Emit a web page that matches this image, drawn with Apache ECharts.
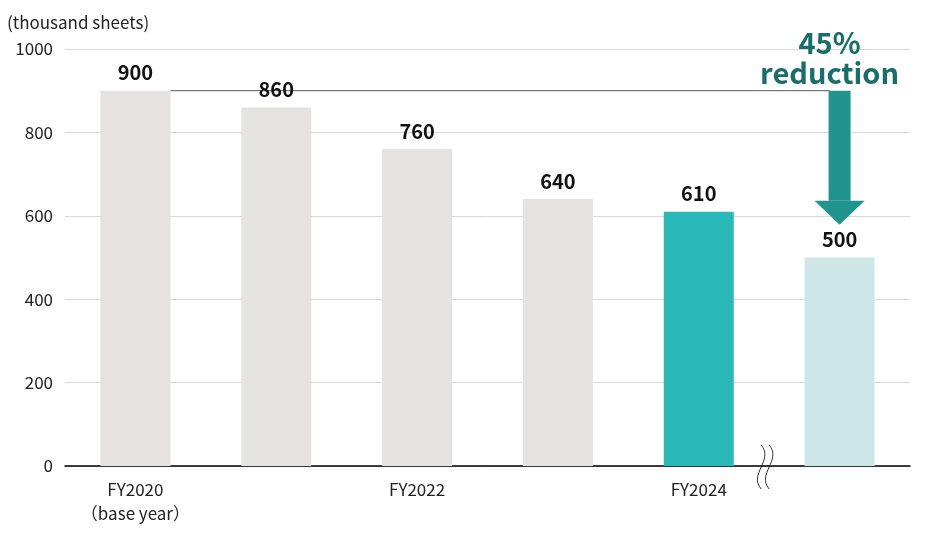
<!DOCTYPE html>
<html>
<head>
<meta charset="utf-8">
<script src="https://cdn.jsdelivr.net/npm/echarts@6/dist/echarts.min.js"></script>
<style>html,body{margin:0;padding:0;background:#fff}#main{width:927px;height:535px}</style>
</head>
<body>
<div id="main"></div>
<script>
var categories = ['FY2020\n（base year）', 'FY2021', 'FY2022', 'FY2023', 'FY2024', 'FY2030\n（Target）'];
var values = [900, 860, 760, 640, 610, 500];
var barColors = ['#e4e3e2', '#e4e3e2', '#e4e3e2', '#e4e3e2', '#2bb8b8', '#cde7e7'];
var yTicks = [0, 200, 400, 600, 800, 1000];
var font = '"Noto Sans CJK JP", "Noto Sans", sans-serif';

var chart = echarts.init(document.getElementById('main'));
chart.setOption({
    animation: false,
    grid: { left: 65, right: 17, top: 49, bottom: 69 },
    xAxis: {
        type: 'category',
        data: categories,
        axisLine: { lineStyle: { color: '#000', width: 1.5 } },
        axisTick: { show: false },
        axisLabel: { color: '#222', fontSize: 17, fontFamily: font, lineHeight: 24, margin: 12 }
    },
    yAxis: {
        type: 'value',
        min: 0, max: 1000, interval: 200,
        name: '(thousand sheets)',
        nameLocation: 'end',
        nameGap: 18,
        nameTextStyle: { color: '#222', fontSize: 17, fontFamily: font, align: 'left', padding: [0, 0, 0, -58] },
        axisLine: { show: false },
        axisTick: { show: false },
        axisLabel: { color: '#222', fontSize: 17, fontFamily: font, margin: 12,
            formatter: function (v) { return yTicks.indexOf(v) >= 0 ? v : ''; } },
        splitLine: { lineStyle: { color: '#d8d8d8' } }
    },
    series: [{
        type: 'bar',
        barWidth: 70,
        data: values.map(function (v, i) { return { value: v, itemStyle: { color: barColors[i] } }; }),
        label: { show: true, position: 'top', distance: 8, color: '#111', fontSize: 20, fontWeight: 'bold', fontFamily: font }
    }]
});

// annotation: reference line, arrow, wavy break
var p0 = chart.convertToPixel({ seriesIndex: 0 }, [0, values[0]]);
var p5 = chart.convertToPixel({ seriesIndex: 0 }, [5, values[5]]);
var p4 = chart.convertToPixel({ seriesIndex: 0 }, [4, 0]);
var ax = p5[0];
var breakX = (p4[0] + ax) / 2 - 5;
chart.setOption({
    graphic: [
        { type: 'line', shape: { x1: p0[0] + 35, y1: p0[1], x2: ax - 10, y2: p0[1] }, style: { stroke: '#555', lineWidth: 1 } },
        { type: 'rect', shape: { x: ax - 11, y: p0[1], width: 22, height: 110 }, style: { fill: '#20958f' } },
        { type: 'polygon', shape: { points: [[ax - 25, p0[1] + 110], [ax + 25, p0[1] + 110], [ax, p0[1] + 134]] }, style: { fill: '#20958f' } },
        { type: 'text', x: ax - 10, y: 58, style: { text: '45%\nreduction', fill: '#1a6e6a', font: 'bold 29px ' + font, align: 'center', verticalAlign: 'middle', lineHeight: 30 } },
        { type: 'bezierCurve', shape: { x1: breakX - 3, y1: 445, x2: breakX - 3, y2: 489, cpx1: breakX + 10, cpy1: 460, cpx2: breakX - 16, cpy2: 474 }, style: { stroke: '#333', lineWidth: 1, fill: null } },
        { type: 'bezierCurve', shape: { x1: breakX + 5, y1: 445, x2: breakX + 5, y2: 489, cpx1: breakX + 18, cpy1: 460, cpx2: breakX - 8, cpy2: 474 }, style: { stroke: '#333', lineWidth: 1, fill: null } }
    ]
});
</script>
</body>
</html>
